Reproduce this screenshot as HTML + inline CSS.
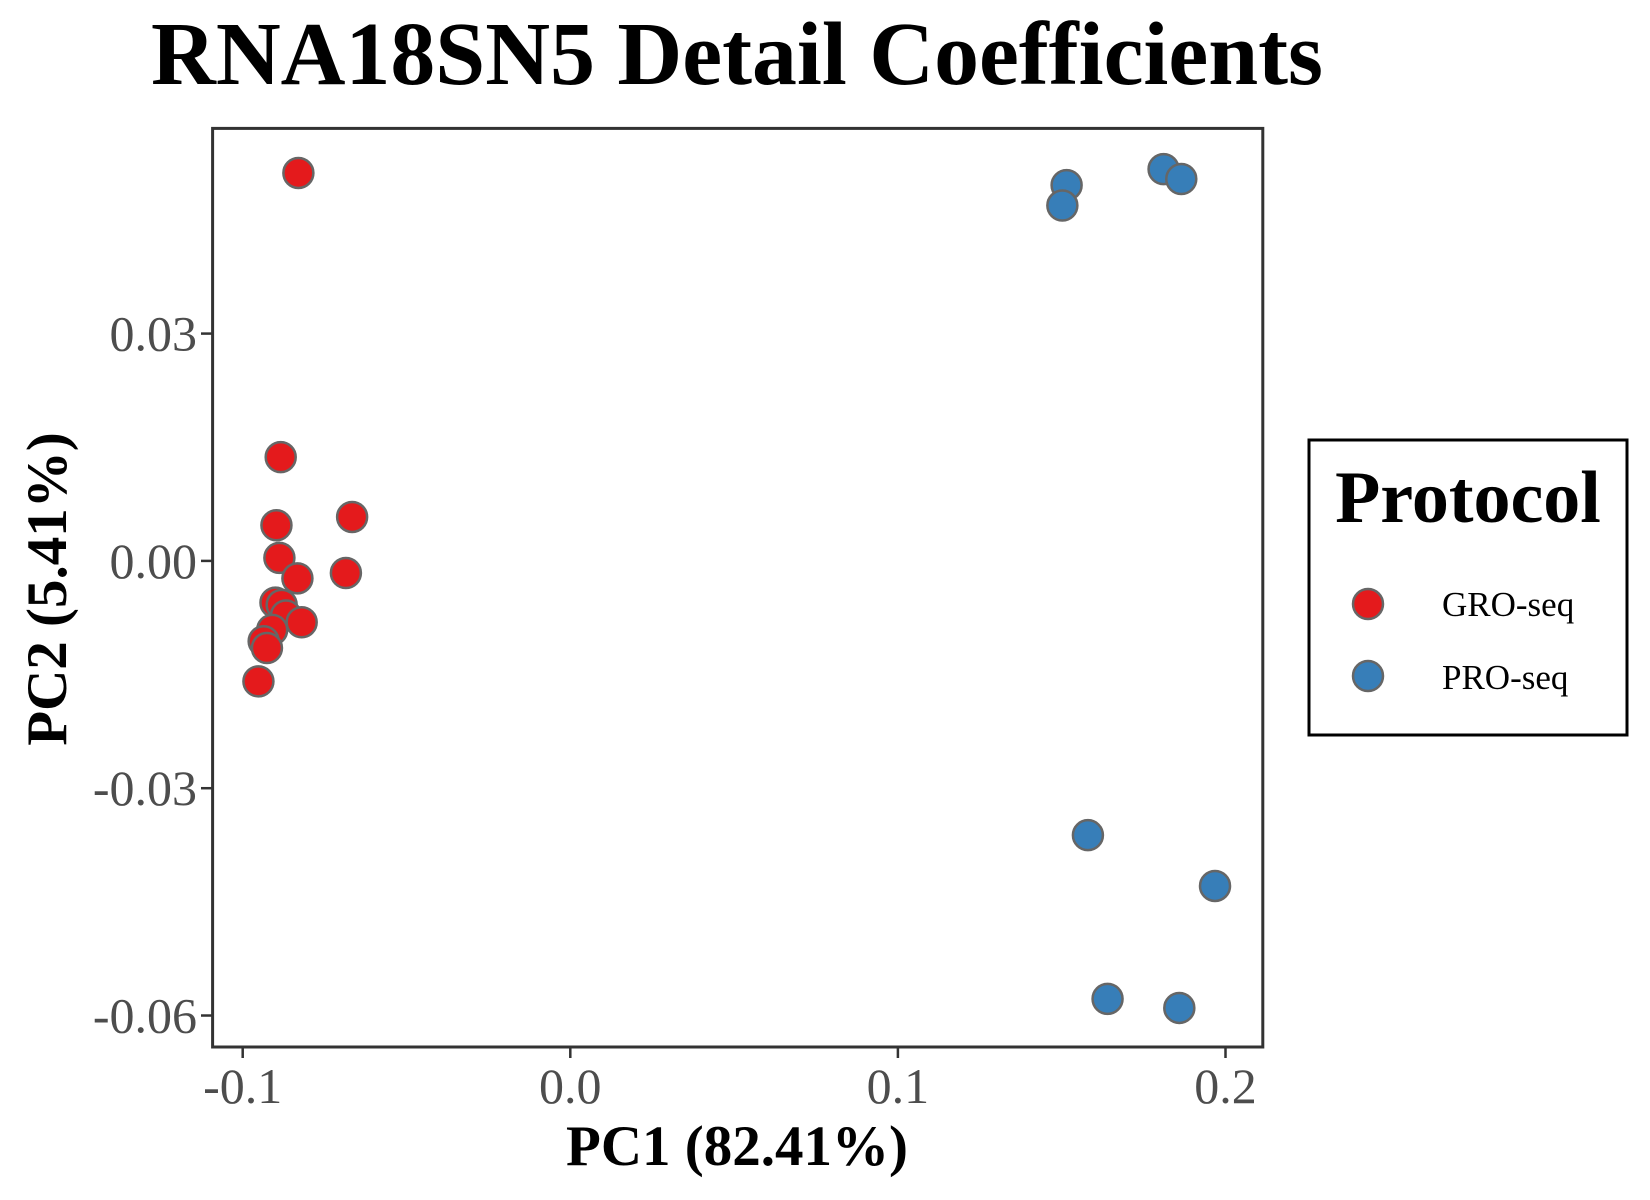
<!DOCTYPE html>
<html><head><meta charset="utf-8"><style>
html,body{margin:0;padding:0;background:#fff;}
svg{display:block;font-family:"Liberation Serif",serif;}
</style></head><body>
<svg id="chart" width="1650" height="1200" viewBox="0 0 1650 1200" xmlns="http://www.w3.org/2000/svg">
<rect width="1650" height="1200" fill="#fff"/>
<text x="737" y="84" text-anchor="middle" font-size="90" font-weight="bold" textLength="1172" lengthAdjust="spacingAndGlyphs">RNA18SN5 Detail Coefficients</text>
<g id="axes"></g>
<g id="points"></g>
<rect x="212.6" y="128.4" width="1050.2" height="918.6" fill="none" stroke="#333" stroke-width="3"/>
<text x="737" y="1165" text-anchor="middle" font-size="57" font-weight="bold">PC1 (82.41%)</text>
<text transform="translate(66,589) rotate(-90)" text-anchor="middle" font-size="57" font-weight="bold">PC2 (5.41%)</text>
<g>
<rect x="1309" y="440" width="318" height="295" fill="#fff" stroke="#000" stroke-width="3"/>
<text x="1468" y="522" text-anchor="middle" font-size="74" font-weight="bold">Protocol</text>
<circle cx="1368" cy="604" r="15" fill="#e41a1c" stroke="#666" stroke-width="2.5"/>
<text x="1442" y="616" font-size="35">GRO-seq</text>
<circle cx="1368" cy="676" r="15" fill="#377eb8" stroke="#666" stroke-width="2.5"/>
<text x="1442" y="689" font-size="35">PRO-seq</text>
</g>
</svg>
<script>
const xTicks = [-0.1, 0.0, 0.1, 0.2];
const xTickLabels = ["-0.1", "0.0", "0.1", "0.2"];
const yTicks = [0.03, 0.0, -0.03, -0.06];
const yTickLabels = ["0.03", "0.00", "-0.03", "-0.06"];
const groX = [-0.083, -0.0884, -0.0897, -0.0666, -0.0888, -0.0833, -0.0685, -0.090, -0.0881, -0.0868, -0.082, -0.091, -0.0936, -0.0926, -0.0952];
const groY = [0.0512, 0.0137, 0.0047, 0.0058, 0.0004, -0.0023, -0.0016, -0.0055, -0.0058, -0.0072, -0.0081, -0.0091, -0.0106, -0.0115, -0.0159];
const proX = [0.1515, 0.1502, 0.1811, 0.1865, 0.158, 0.1968, 0.164, 0.1859];
const proY = [0.0496, 0.0469, 0.0517, 0.0504, -0.0362, -0.0429, -0.0578, -0.0590];

const NS = "http://www.w3.org/2000/svg";
function xs(v){ return 570.3 + v * 3276; }
function ys(v){ return 560.9 - v * 7577; }
const axes = document.getElementById("axes");
const pts = document.getElementById("points");
function mk(tag, attrs, parent){
  const e = document.createElementNS(NS, tag);
  for (const k in attrs) e.setAttribute(k, attrs[k]);
  parent.appendChild(e);
  return e;
}
xTicks.forEach((v, i) => {
  const x = xs(v);
  const t = mk("line", {x1:x, x2:x, y1:1047, y2:1058, stroke:"#333", "stroke-width":2.5}, axes);
  
  
  const l = mk("text", {x:x, y:1103, "text-anchor":"middle", "font-size":50, fill:"#4d4d4d"}, axes);
  l.textContent = xTickLabels[i];
  
  
});
yTicks.forEach((v, i) => {
  const y = ys(v);
  const t = mk("line", {x1:201, x2:212.6, y1:y, y2:y, stroke:"#333", "stroke-width":2.5}, axes);
  
  
  const l = mk("text", {x:197, y:y + 17, "text-anchor":"end", "font-size":50, fill:"#4d4d4d"}, axes);
  l.textContent = yTickLabels[i];
  
  
});
function drawSeries(X, Y, color, name){
  X.forEach((v, i) => {
    const c = mk("circle", {cx:xs(v), cy:ys(Y[i]), r:15, fill:color, stroke:"#666", "stroke-width":2.5}, pts);
    
    
  });
}
drawSeries(groX, groY, "#e41a1c", "gro-seq-point");
drawSeries(proX, proY, "#377eb8", "pro-seq-point");
</script>
</body></html>
